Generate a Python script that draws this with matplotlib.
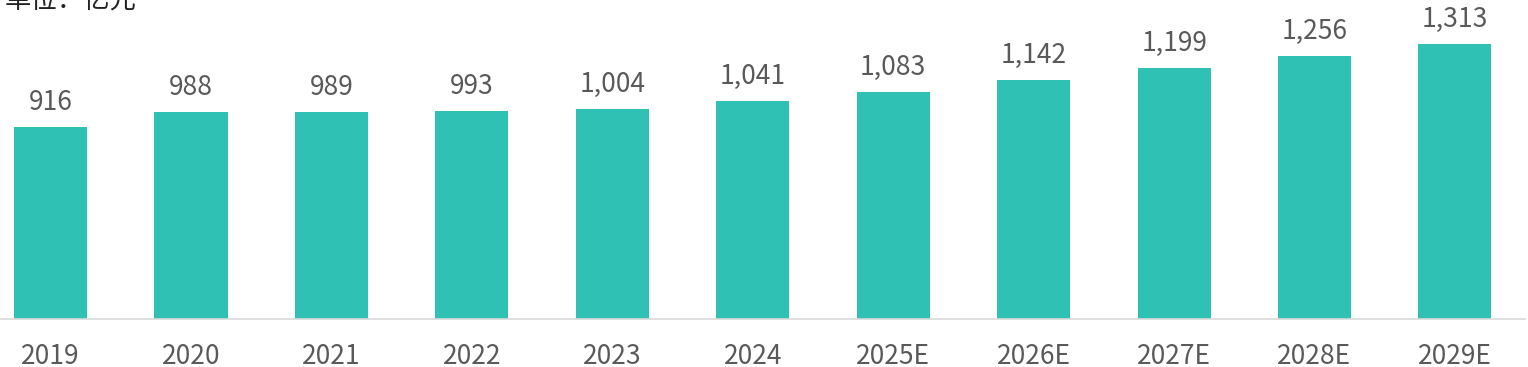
import matplotlib.pyplot as plt

plt.rcParams['font.family'] = ['Noto Sans CJK SC', 'DejaVu Sans']

years = ['2019', '2020', '2021', '2022', '2023', '2024',
         '2025E', '2026E', '2027E', '2028E', '2029E']
values = [916, 988, 989, 993, 1004, 1041, 1083, 1142, 1199, 1256, 1313]
unit_label = '单位：亿元'

bar_color = '#2EC1B4'
text_color = '#595959'

fig = plt.figure(figsize=(15.28, 3.67), dpi=100)
ax = fig.add_axes([0, 48 / 367, 1, 319 / 367])

x = range(len(years))
rects = ax.bar(x, values, width=0.52, color=bar_color)

for rect, v in zip(rects, values):
    ax.text(rect.get_x() + rect.get_width() / 2, v + 52, format(v, ','),
            ha='center', va='bottom', fontsize=19, color=text_color,
            fontweight='light')

ax.set_xlim(-0.36, 10.52)
ax.set_ylim(0, 1522)
ax.set_xticks(list(x))
ax.set_xticklabels(years, fontsize=19, color=text_color, fontweight='light')
ax.tick_params(axis='x', length=0, pad=17)
ax.set_yticks([])

for s in ['top', 'left', 'right']:
    ax.spines[s].set_visible(False)
ax.spines['bottom'].set_color('#D9D9D9')
ax.spines['bottom'].set_linewidth(1.2)
ax.spines['bottom'].set_bounds(-0.36, 10.5)

fig.text(0.003, 1.0 - 8 / 367, unit_label, ha='left', va='baseline',
         fontsize=19, color='#222222', fontweight='light')

fig.savefig('out.png', dpi=100)
